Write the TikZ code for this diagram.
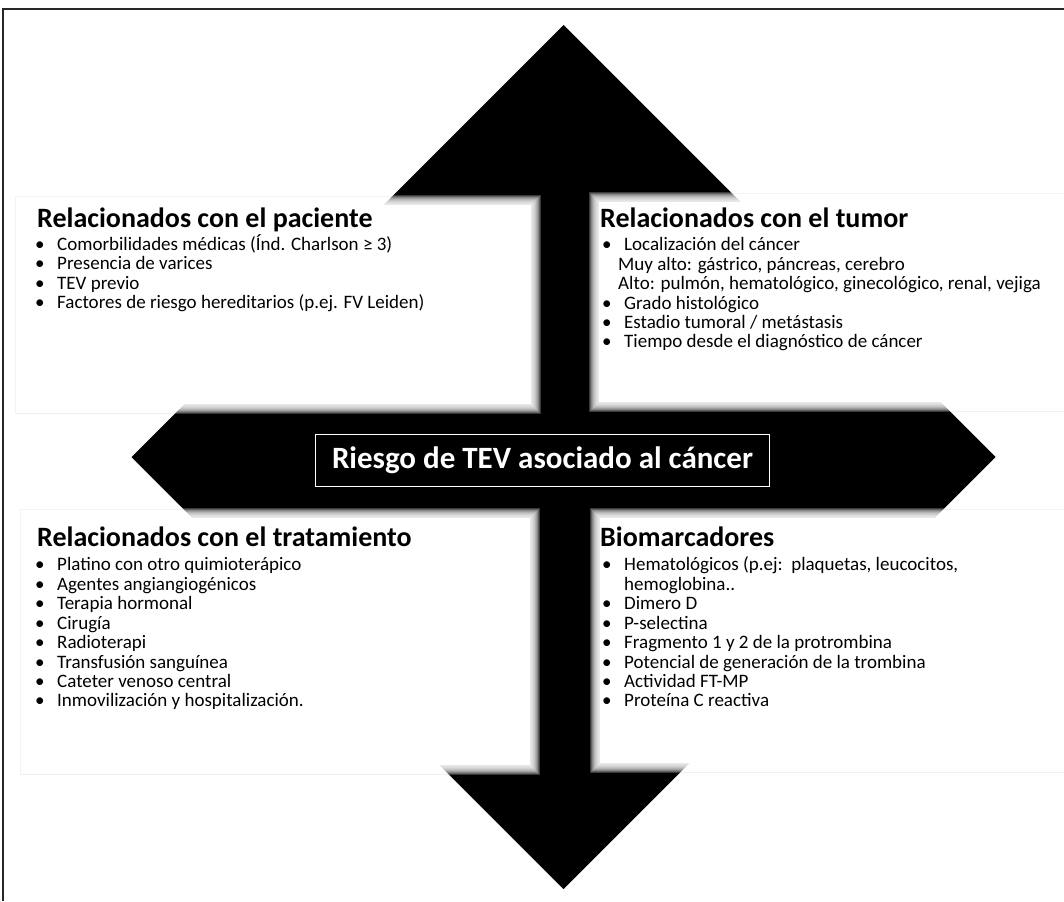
\documentclass[tikz,border=0pt]{standalone}
\usepackage{fontspec}
\setmainfont{Carlito}
\tikzset{
  head/.style={anchor=base west, inner sep=0pt, font=\fontsize{28}{30}\selectfont\bfseries},
  item/.style={anchor=base west, inner sep=0pt, font=\fontsize{19}{20}\selectfont},
  centertxt/.style={draw=white, line width=1pt, text=white, inner xsep=12pt, minimum width=454pt, minimum height=52pt,
     font=\fontsize{31}{33}\selectfont\bfseries},
  faint/.style={draw=black!7, line width=0.8pt},
}
\newcommand\softbox[4]{%
  \foreach \k in {-5,...,5}{\fill[white, opacity=0.22] (#1-\k,#2-\k) rectangle (#3+\k,#4+\k);}
  \fill[white] (#1+5,#2+5) rectangle (#3-5,#4-5);
}
\newcommand\bul[4]{% x, y, text, name
  \node[item] at (#1-22,#2) {•};
  \node[item] (#4) at (#1,#2) {#3};
}
\begin{document}
\begin{tikzpicture}[x=1pt,y=-1pt]
\useasboundingbox (0,0) rectangle (1064,901);
\fill[white] (0,0) rectangle (1064,901);
% faint outlines of the soft boxes
\draw[faint] (15,196) rectangle (540,413);
\draw[faint] (590,193) rectangle (1070,411);
\draw[faint] (20,509) rectangle (539,774);
\draw[faint] (591,509) rectangle (1070,772);
% the black four-way arrow (visible part is a diamond)
\fill[black] (131.5,457) -- (563.5,25) -- (995.5,457) -- (563.5,889) -- cycle;
% frame
\draw[line width=1.3pt, black!85] (3,901) -- (3,9) -- (1064,9);
% soft white boxes
\softbox{19}{200}{536}{409}
\softbox{594}{197}{1072}{407}
\softbox{24}{513}{535}{770}
\softbox{595}{513}{1072}{768}
% centre label
\node[centertxt] (center) at (542.5,460.5) {Riesgo de TEV asociado al cáncer};
% top-left
\node[head] (hpac) at (37,228) {Relacionados con el paciente};
\bul{57}{250}{Comorbilidades médicas (Índ. Charlson ≥ 3)}{p1}
\bul{57}{269.5}{Presencia de varices}{p2}
\bul{57}{289}{TEV previo}{p3}
\bul{57}{308.5}{Factores de riesgo hereditarios (p.ej. FV Leiden)}{p4}
% top-right
\node[head] (htum) at (600,228) {Relacionados con el tumor};
\bul{624}{250}{Localización del cáncer}{t1}
\node[item] (t1a) at (618,270) {Muy alto: gástrico, páncreas, cerebro};
\node[item] (t1b) at (618,289.5) {Alto: pulmón, hematológico, ginecológico, renal, vejiga};
\bul{624}{309}{Grado histológico}{t2}
\bul{624}{328}{Estadio tumoral / metástasis}{t3}
\bul{624}{347.5}{Tiempo desde el diagnóstico de cáncer}{t4}
% bottom-left
\node[head] (htra) at (37,546) {Relacionados con el tratamiento};
\bul{57}{570.5}{Platino con otro quimioterápico}{r1}
\bul{57}{590}{Agentes angiangiogénicos}{r2}
\bul{57}{609.5}{Terapia hormonal}{r3}
\bul{57}{629}{Cirugía}{r4}
\bul{57}{648.5}{Radioterapi}{r5}
\bul{57}{668}{Transfusión sanguínea}{r6}
\bul{57}{687}{Cateter venoso central}{r7}
\bul{57}{706.5}{Inmovilización y hospitalización.}{r8}
% bottom-right
\node[head] (hbio) at (600,546) {Biomarcadores};
\bul{624}{570.5}{Hematológicos (p.ej:\ \ plaquetas, leucocitos,}{b1}
\node[item] (b1a) at (624,590) {hemoglobina..};
\bul{624}{609.5}{Dimero D}{b2}
\bul{624}{629}{P-selectina}{b3}
\bul{624}{648.5}{Fragmento 1 y 2 de la protrombina}{b4}
\bul{624}{668}{Potencial de generación de la trombina}{b5}
\bul{624}{687}{Actividad FT-MP}{b6}
\bul{624}{706.5}{Proteína C reactiva}{b7}
\end{tikzpicture}
\end{document}
